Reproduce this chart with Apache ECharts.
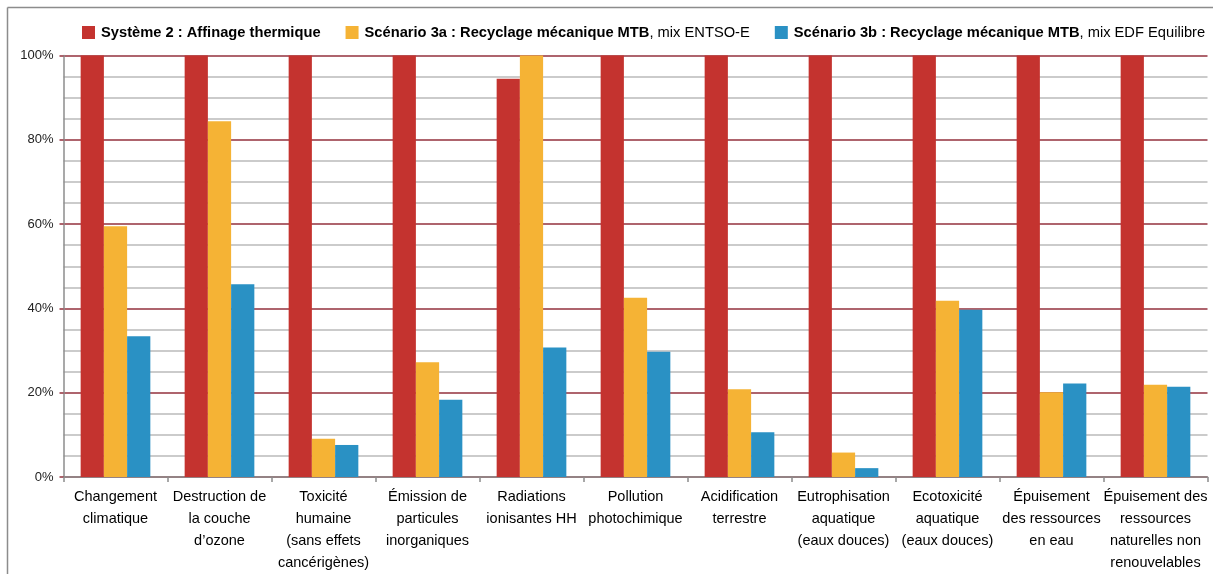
<!DOCTYPE html>
<html>
<head>
<meta charset="utf-8">
<script src="https://cdn.jsdelivr.net/npm/echarts@6/dist/echarts.min.js"></script>
<style>
html,body{margin:0;padding:0;background:#fff;}
#chart{width:1213px;height:574px;}
</style>
</head>
<body>
<div id="chart"></div>
<script>
// ---- data ----
const categories = [
  "Changement\nclimatique",
  "Destruction de\nla couche\nd’ozone",
  "Toxicité\nhumaine\n(sans effets\ncancérigènes)",
  "Émission de\nparticules\ninorganiques",
  "Radiations\nionisantes HH",
  "Pollution\nphotochimique",
  "Acidification\nterrestre",
  "Eutrophisation\naquatique\n(eaux douces)",
  "Ecotoxicité\naquatique\n(eaux douces)",
  "Épuisement\ndes ressources\nen eau",
  "Épuisement des\nressources\nnaturelles non\nrenouvelables"
];
const seriesNames = [
  "Système 2 : Affinage thermique",
  "Scénario 3a : Recyclage mécanique MTB, mix ENTSO-E",
  "Scénario 3b : Recyclage mécanique MTB, mix EDF Equilibre"
];
const legendBold = [
  "Système 2 : Affinage thermique",
  "Scénario 3a : Recyclage mécanique MTB",
  "Scénario 3b : Recyclage mécanique MTB"
];
const legendRegular = ["", ", mix ENTSO-E", ", mix EDF Equilibre"];
const systeme2   = [100, 100, 100, 100, 94.5, 100, 100, 100, 100, 100, 100];
const scenario3a = [59.5, 84.4, 9.1, 27.2, 100, 42.5, 20.8, 5.8, 41.8, 20.1, 21.9];
const scenario3b = [33.4, 45.7, 7.6, 18.3, 30.7, 29.7, 10.6, 2.1, 39.7, 22.2, 21.4];
const yTicks = [0, 20, 40, 60, 80, 100];

// ---- style ----
const colors = ["#C4332F", "#F5B335", "#2A91C4"];
const FONT = "'Liberation Sans', Arial, sans-serif";
const majorColor = "#93303D";
const minorColor = "#BBBBBB";
const axisGray = "#8C8C8C";

const chart = echarts.init(document.getElementById('chart'), null, {renderer: 'canvas'});

const valuesBySeries = [systeme2, scenario3a, scenario3b];

const option = {
  animation: false,
  backgroundColor: '#fff',
  textStyle: {fontFamily: FONT},
  color: colors,
  graphic: [
    {type: 'line', shape: {x1: 7.5, y1: 7.5, x2: 1213, y2: 7.5}, style: {stroke: axisGray, lineWidth: 1.5}, silent: true},
    {type: 'line', shape: {x1: 7.5, y1: 7.5, x2: 7.5, y2: 574}, style: {stroke: axisGray, lineWidth: 1.5}, silent: true}
  ],
  legend: {
    left: 77,
    top: 20,
    width: 1136,
    padding: [5, 0, 5, 5],
    itemWidth: 13,
    itemHeight: 13,
    itemGap: 25,
    icon: 'rect',
    data: seriesNames,
    formatter: function (name) {
      const i = seriesNames.indexOf(name);
      return '{b|' + legendBold[i] + '}' + (legendRegular[i] ? '{r|' + legendRegular[i] + '}' : '');
    },
    textStyle: {
      fontFamily: FONT,
      padding: [0, 0, 0, 1],
      rich: {
        b: {fontFamily: FONT, fontWeight: 'bold', fontSize: 14.7, color: '#000'},
        r: {fontFamily: FONT, fontWeight: 'normal', fontSize: 14.7, color: '#000'}
      }
    }
  },
  grid: {
    left: 63.5,
    right: 5.5,
    top: 55.5,
    bottom: 96.5,
    containLabel: false
  },
  xAxis: {
    type: 'category',
    data: categories,
    axisLine: {lineStyle: {color: axisGray, width: 1.5}},
    axisTick: {show: true, length: 5, lineStyle: {color: axisGray, width: 1.5}},
    axisLabel: {
      interval: 0,
      color: '#000',
      fontFamily: FONT,
      fontSize: 14.5,
      lineHeight: 22,
      margin: 9
    },
    splitLine: {show: false}
  },
  yAxis: {
    type: 'value',
    min: 0,
    max: 100,
    interval: 20,
    axisLine: {show: true, lineStyle: {color: axisGray, width: 1.5}},
    axisTick: {show: true, length: 4, lineStyle: {color: majorColor, width: 1.5}},
    axisLabel: {
      formatter: v => yTicks.includes(v) ? v + '%' : '',
      color: '#222',
      fontFamily: FONT,
      fontSize: 13,
      margin: 10
    },
    splitLine: {show: true, lineStyle: {color: majorColor, width: 1.5}},
    minorTick: {show: false, splitNumber: 4},
    minorSplitLine: {show: true, lineStyle: {color: minorColor, width: 1.5}}
  },
  series: valuesBySeries.map((vals, i) => ({
    name: seriesNames[i],
    type: 'bar',
    data: vals,
    barGap: '0%',
    barCategoryGap: '33%',
    itemStyle: {color: colors[i]},
    z: 3
  }))
};
chart.setOption(option);
</script>
</body>
</html>
